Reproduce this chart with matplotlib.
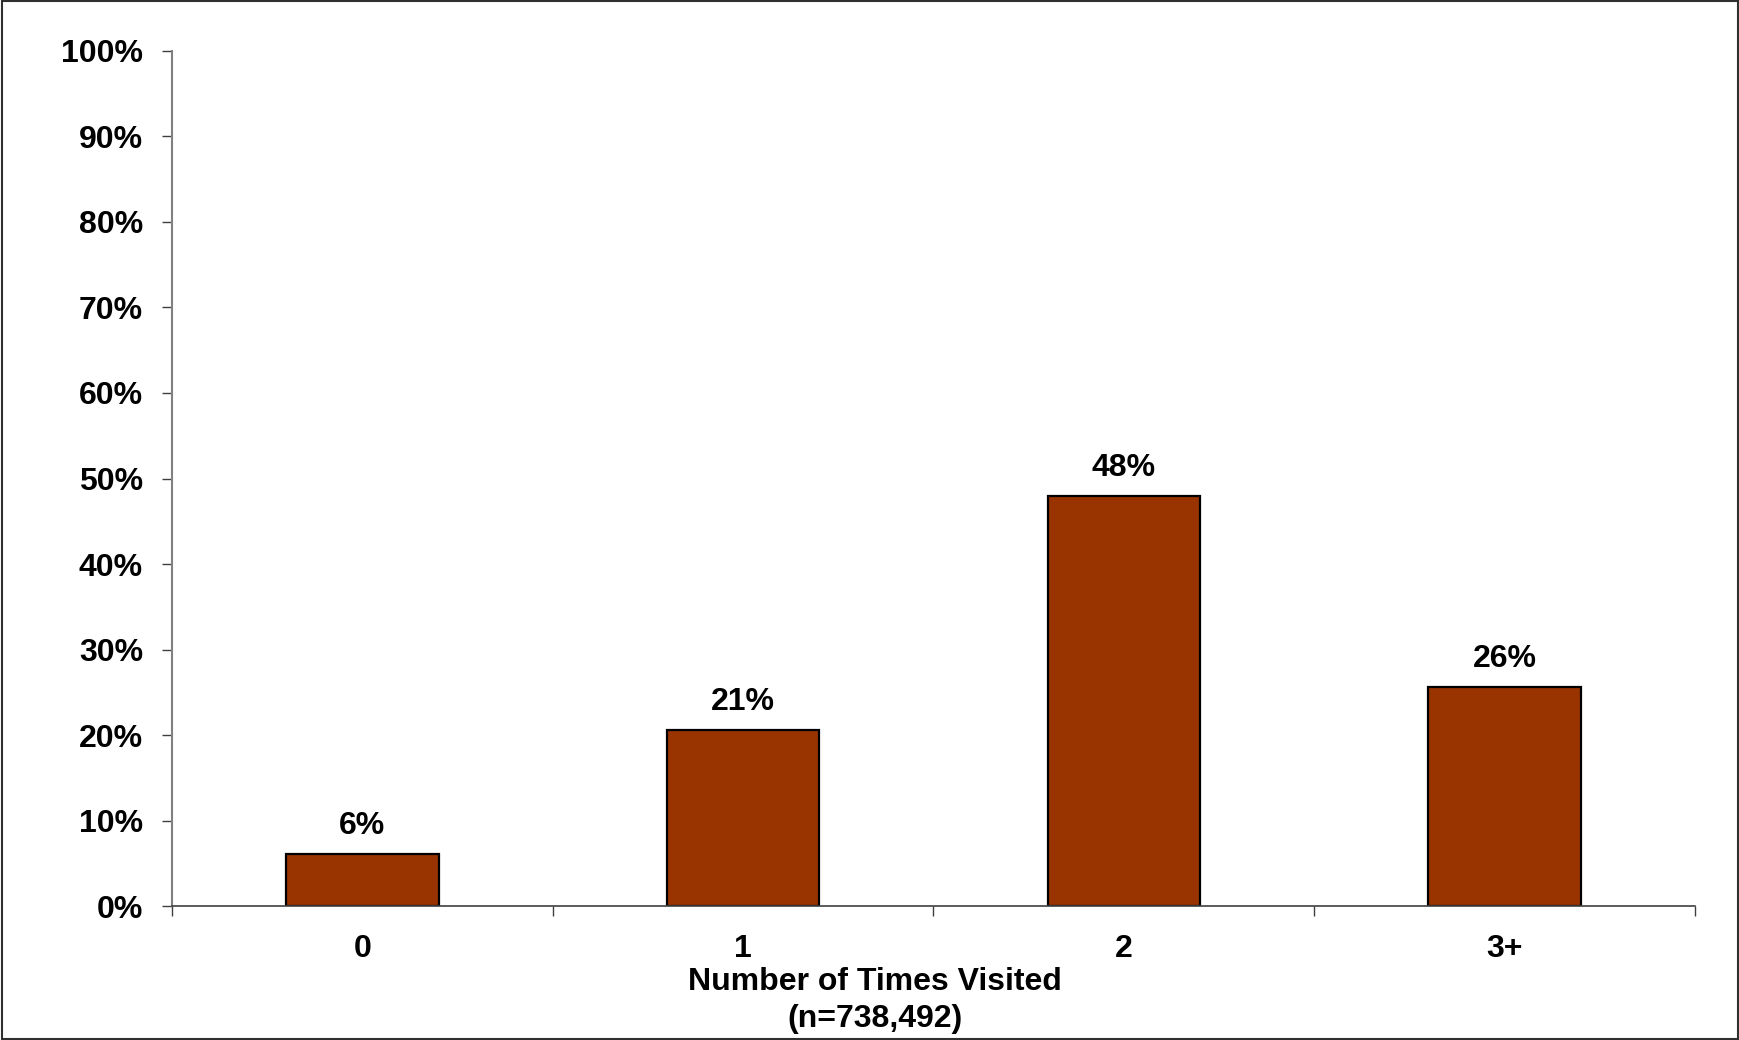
import numpy as np
import matplotlib
matplotlib.use('Agg')
import matplotlib.pyplot as plt
from matplotlib.patches import Rectangle
from matplotlib.ticker import FixedLocator, PercentFormatter

categories = ['0', '1', '2', '3+']
values = [6.1, 20.6, 48.0, 25.6]
labels = ['6%', '21%', '48%', '26%']
yticks = list(range(0, 101, 10))

plt.rcParams['font.family'] = ['Liberation Sans', 'DejaVu Sans']
plt.rcParams['font.weight'] = 'bold'
FS = 23

fig = plt.figure(figsize=(17.4, 10.4), dpi=100)
ax = fig.add_axes([0.0989, 0.1288, 0.8751, 0.8222])

x = np.arange(len(categories))
bars = ax.bar(x, values, width=0.4, color='#993300', edgecolor='black', linewidth=1.6)

for b, lab in zip(bars, labels):
    ax.text(b.get_x() + b.get_width() / 2, b.get_height() + 1.5, lab,
            ha='center', va='bottom', fontsize=FS, fontweight='bold')

ax.set_xlim(-0.5, len(categories) - 0.5)
ax.set_ylim(0, 100)
ax.set_yticks(yticks)
ax.yaxis.set_major_formatter(PercentFormatter(decimals=0))
ax.set_xticks(x)
ax.set_xticklabels(categories)
ax.xaxis.set_minor_locator(FixedLocator(np.arange(-0.5, len(categories), 1.0)))

ax.tick_params(axis='y', length=7, width=1, color='#404040', pad=14, labelsize=FS)
ax.tick_params(axis='x', which='major', length=0, pad=20, labelsize=FS)
ax.tick_params(axis='x', which='minor', length=7, width=1, color='#404040')

for s in ['top', 'right']:
    ax.spines[s].set_visible(False)
ax.spines['left'].set_color('#808080')
ax.spines['left'].set_linewidth(1.5)
ax.spines['bottom'].set_color('#404040')
ax.spines['bottom'].set_linewidth(1.2)

# axis title sits centred on the figure, not on the axes
fig.text(0.503, 1 - 982 / 1040, 'Number of Times Visited', ha='center', va='center',
         fontsize=FS, fontweight='bold')
fig.text(0.503, 1 - 1019 / 1040, '(n=738,492)', ha='center', va='center',
         fontsize=FS, fontweight='bold')

# frame round the whole figure
fig.patches.append(Rectangle((0.001, 0.001), 0.998, 0.998, transform=fig.transFigure,
                             fill=False, edgecolor='#303030', linewidth=1.5))

fig.savefig('out.png', dpi=100)
